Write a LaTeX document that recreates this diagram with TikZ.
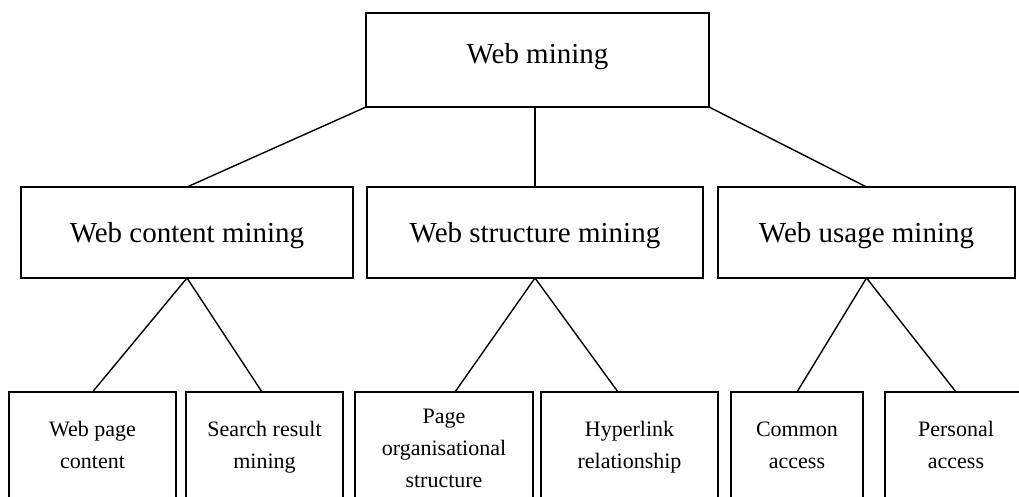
\documentclass[tikz,border=0pt]{standalone}
\usepackage{fontspec}
\setmainfont{Liberation Serif}
\begin{document}
\begin{tikzpicture}[x=1pt,y=-1pt,
  box/.style={draw=black,line width=2.5pt,rectangle,inner sep=0pt,outer sep=0pt,fill=white},
  bigtxt/.style={font=\fontsize{29}{35}\selectfont},
  smalltxt/.style={font=\fontsize{22}{32}\selectfont,align=center,anchor=north},
  conn/.style={draw=black,line width=1.4pt}]
\useasboundingbox[fill=white] (0,0) rectangle (1019,497);
% top
\node[box,bigtxt,minimum width=343pt,minimum height=94pt,text height=20pt,text depth=13.4pt] (top) at (537.5,60) {Web mining};
% middle
\node[box,bigtxt,minimum width=332pt,minimum height=91pt,text height=24pt,text depth=5pt] (content) at (187,232.5) {Web content mining};
\node[box,bigtxt,minimum width=336pt,minimum height=91pt,text height=24pt,text depth=5pt] (structure) at (535,232.5) {Web structure mining};
\node[box,bigtxt,minimum width=297pt,minimum height=91pt,text height=24pt,text depth=5pt] (usage) at (866.5,232.5) {Web usage mining};
% bottom
\node[box,smalltxt,minimum width=167pt,minimum height=107.2pt] (wpc) at (92.5,392) {\strut Web page\\\strut content};
\node[box,smalltxt,minimum width=157pt,minimum height=107.2pt] (srm) at (264.5,392) {\strut Search result\\\strut mining};
\node[box,smalltxt,minimum width=178pt,minimum height=113.8pt] (pos) at (444,392) {\strut Page\\\strut organisational\\\strut structure};
\node[box,smalltxt,minimum width=177pt,minimum height=107.2pt] (hyp) at (629.5,392) {\strut Hyperlink\\\strut relationship};
\node[box,smalltxt,minimum width=132pt,minimum height=107.2pt] (ca) at (797,392) {\strut Common\\\strut access};
\node[box,smalltxt,minimum width=142pt,minimum height=107.2pt] (pa) at (956,392) {\strut Personal\\\strut access};
% connectors
\draw[conn] (top.south west) -- (content.north);
\draw[conn] (structure.north) -- (structure.north |- top.south);
\draw[conn] (top.south east) -- (usage.north);
\draw[conn] (content.south) -- (wpc.north);
\draw[conn] (content.south) -- ([xshift=-2.5pt]srm.north);
\draw[conn] (structure.south) -- ([xshift=11pt]pos.north);
\draw[conn] (structure.south) -- ([xshift=-11.5pt]hyp.north);
\draw[conn] (usage.south) -- (ca.north);
\draw[conn] (usage.south) -- (pa.north);
\end{tikzpicture}
\end{document}
